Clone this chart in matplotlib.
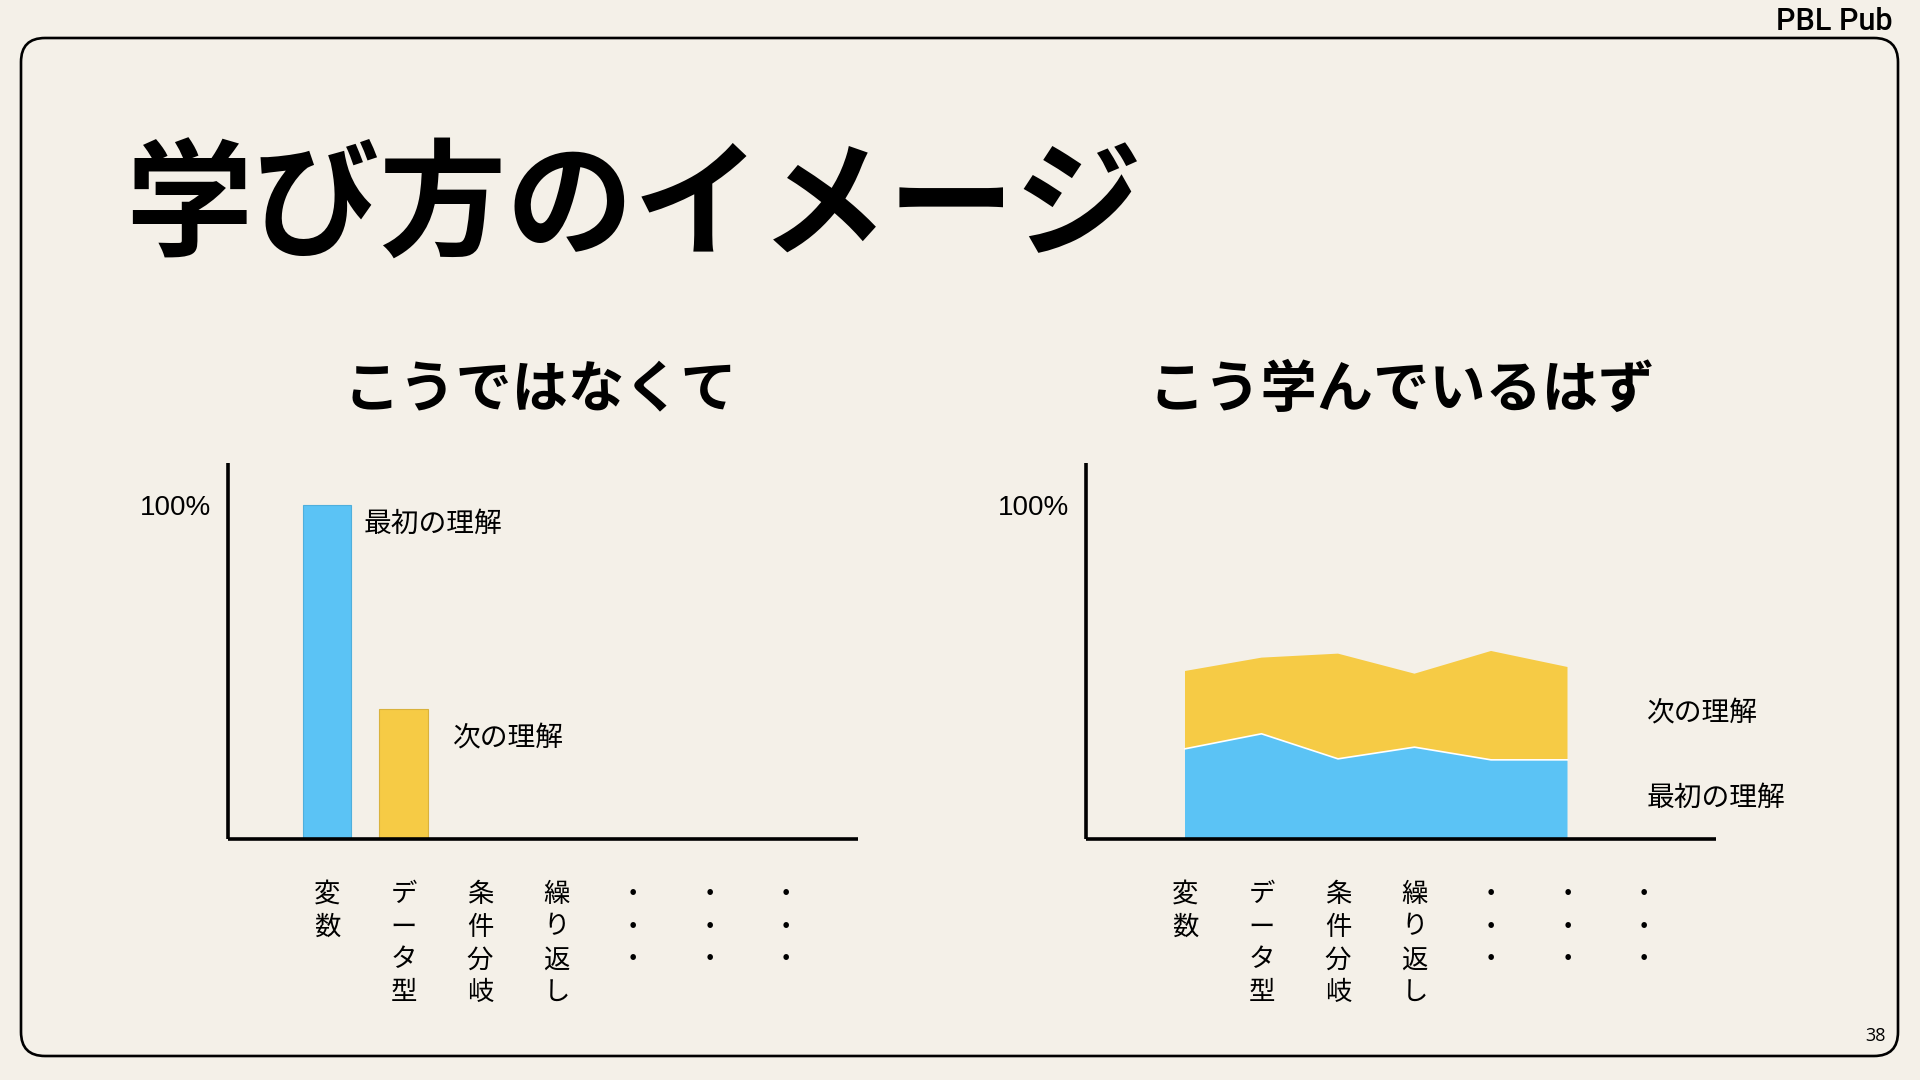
import matplotlib
matplotlib.use("Agg")
import matplotlib.pyplot as plt
from matplotlib.patches import FancyBboxPatch

plt.rcParams['font.family'] = ['Noto Sans CJK JP', 'DejaVu Sans']

BG = '#F4F0E8'
BLUE = '#5BC3F5'
YELLOW = '#F6CB45'

# topics on the x axis (drawn vertically, one character per line)
topics = ['変数', 'データ型', '条件分岐', '繰り返し', '・・・', '・・・', '・・・']

# left: "not like this" -> understanding only at the first two topics
bar_pos = [0, 1]
bar_values = [100, 39]
bar_colors = [BLUE, YELLOW]

# right: "should be learning like this" -> stacked understanding
area_pos = [0, 1, 2, 3, 4, 5]
first_understanding = [27.0, 31.5, 24.0, 27.5, 23.7, 23.7]
next_understanding = [23.3, 22.8, 31.5, 22.0, 32.6, 27.8]

W, H = 1920, 1080
fig = plt.figure(figsize=(W / 100, H / 100), dpi=100, facecolor=BG)

# page decoration in pixel coordinates
deco = fig.add_axes([0, 0, 1, 1], zorder=0)
deco.set_xlim(0, W)
deco.set_ylim(H, 0)
deco.axis('off')
deco.add_patch(FancyBboxPatch((21, 38), 1877, 1018,
                              boxstyle="round,pad=0,rounding_size=24",
                              facecolor='none', edgecolor='black', linewidth=1.9))
deco.text(1893, 30, 'PBL Pub', ha='right', va='baseline', fontsize=22,
          family=['Roboto', 'Liberation Sans', 'DejaVu Sans'], fontweight='medium')
deco.text(1886, 1041, '38', ha='right', va='baseline', fontsize=13,
          family=['Open Sans', 'DejaVu Sans'])
deco.text(125, 209, '学び方のイメージ', ha='left', va='center', fontsize=91.5,
          fontweight='bold')
deco.text(540, 390, 'こうではなくて', ha='center', va='center', fontsize=40.5,
          fontweight='bold')
deco.text(1402, 390, 'こう学んでいるはず', ha='center', va='center', fontsize=40.5,
          fontweight='bold')


def setup_axes(left_px):
    ax = fig.add_axes([left_px / W, 1 - 839 / H, 630 / W, 376 / H], zorder=2)
    ax.patch.set_alpha(0)
    ax.set_xlim(-99 / 76.5, -99 / 76.5 + 630 / 76.5)
    ax.set_ylim(0, 376 / 334 * 100)
    for s in ['top', 'right']:
        ax.spines[s].set_visible(False)
    for s in ['left', 'bottom']:
        ax.spines[s].set_linewidth(2.6)
        ax.spines[s].set_capstyle('butt')
    ax.set_yticks([100])
    ax.set_yticklabels(['100%'], family=['Liberation Sans', 'DejaVu Sans'],
                       fontsize=20)
    ax.set_xticks(range(len(topics)))
    ax.set_xticklabels(['\n'.join(t) for t in topics], fontsize=19,
                       linespacing=1.28, va='top')
    ax.tick_params(axis='y', length=0, pad=12)
    ax.tick_params(axis='x', length=0, pad=30)
    return ax


ax1 = setup_axes(228)
ax1.bar(bar_pos, bar_values, width=0.64, color=bar_colors,
        edgecolor=['#4FAFDC', '#D9B23C'], linewidth=0.8)
ax1.text(0.48, 94.3, '最初の理解', ha='left', va='center', fontsize=20)
ax1.text(1.65, 30.2, '次の理解', ha='left', va='center', fontsize=20)

ax2 = setup_axes(1086)
ax2.stackplot(area_pos, first_understanding, next_understanding,
              colors=[BLUE, YELLOW], linewidth=0)
ax2.plot(area_pos, first_understanding, color='white', linewidth=1.2)
ax2.text(6.04, 37.7, '次の理解', ha='left', va='center', fontsize=20)
ax2.text(6.04, 12.3, '最初の理解', ha='left', va='center', fontsize=20)

fig.savefig('out.png', dpi=100, facecolor=BG)
